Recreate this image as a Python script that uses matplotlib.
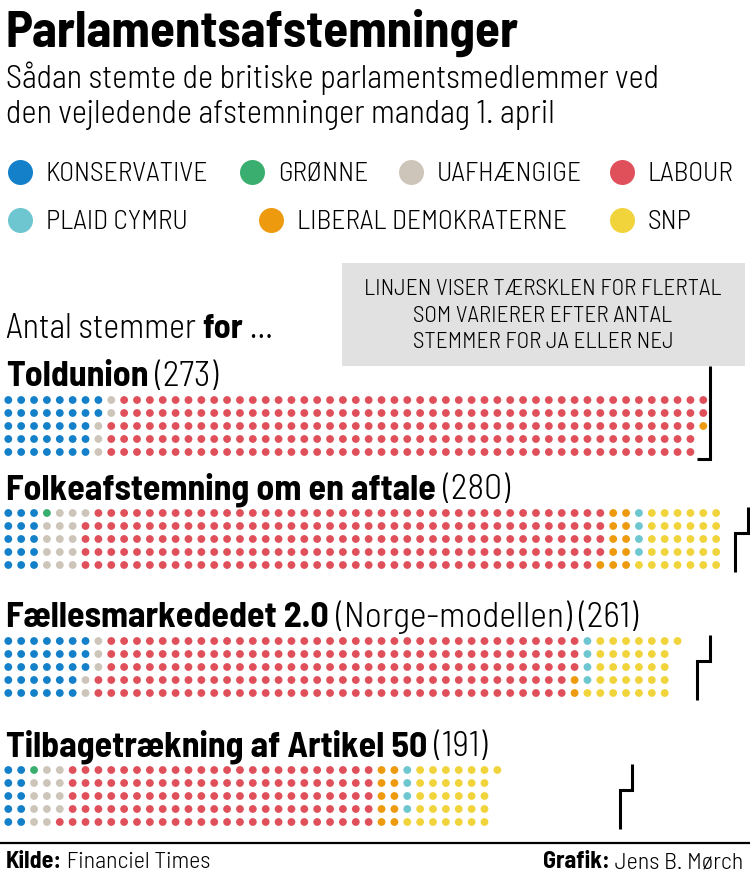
import matplotlib
matplotlib.use('Agg')
import matplotlib.pyplot as plt
from matplotlib.patches import Rectangle

# parties in dot order
parties = ['KONSERVATIVE', 'GRØNNE', 'UAFHÆNGIGE', 'LABOUR',
           'LIBERAL DEMOKRATERNE', 'PLAID CYMRU', 'SNP']
party_colors = ['#1380c9', '#3aae6e', '#cdc5b9', '#e0505b',
                '#ee9a0f', '#6ec6d0', '#f1d43c']

# legend order (as printed)
legend_rows = [['KONSERVATIVE', 'GRØNNE', 'UAFHÆNGIGE', 'LABOUR'],
               ['PLAID CYMRU', 'LIBERAL DEMOKRATERNE', 'SNP']]

motion_bold = ['Toldunion', 'Folkeafstemning om en aftale',
               'Fællesmarkededet 2.0', 'Tilbagetrækning af Artikel 50']
motion_extra = ['', '', ' (Norge-modellen)', '']

# votes for, per party (order as in `parties`)
ayes_toldunion = [37, 0, 5, 230, 1, 0, 0]
ayes_folkeafst = [15, 1, 15, 203, 11, 4, 31]
ayes_faelles = [33, 0, 5, 185, 2, 4, 32]
ayes_artikel50 = [10, 1, 13, 121, 10, 4, 32]
ayes = [ayes_toldunion, ayes_folkeafst, ayes_faelles, ayes_artikel50]
noes = [276, 292, 282, 292]

FONT = ['Barlow Semi Condensed', 'DejaVu Sans']
LIGHT = 300
PT = 0.72  # px -> pt at dpi 100

fig = plt.figure(figsize=(7.5, 8.86), dpi=100)
ax = fig.add_axes([0, 0, 1, 1])
ax.set_xlim(0, 750)
ax.set_ylim(886, 0)
ax.axis('off')
renderer = fig.canvas.get_renderer()


def mixed(x, y, parts, size, ha='left', color='black'):
    '''draw text parts (text, weight) after each other on one baseline'''
    arts = []
    for txt, w in parts:
        t = ax.text(x, y, txt, fontsize=size * PT, fontweight=w, family=FONT,
                    va='baseline', ha='left', color=color)
        arts.append(t)
    widths = [a.get_window_extent(renderer).width for a in arts]
    start = x - sum(widths) if ha == 'right' else x
    for a, wd in zip(arts, widths):
        a.set_x(start)
        start += wd
    return arts


# header
ax.text(6, 47, 'Parlamentsafstemninger', fontsize=51 * PT, fontweight='bold',
        family=FONT, va='baseline')
ax.text(6, 88, 'Sådan stemte de britiske parlamentsmedlemmer ved',
        fontsize=32.3 * PT, fontweight=LIGHT, family=FONT, va='baseline')
ax.text(6, 123, 'den vejledende afstemninger mandag 1. april',
        fontsize=32.3 * PT, fontweight=LIGHT, family=FONT, va='baseline')

# legend
legend_x = [[20, 252, 411, 622], [20, 271, 622]]
legend_y = [172, 220]
for r, row in enumerate(legend_rows):
    for name, lx in zip(row, legend_x[r]):
        col = party_colors[parties.index(name)]
        ax.scatter([lx], [legend_y[r]], s=(25 * PT) ** 2, color=col, lw=0)
        ax.text(lx + 26, legend_y[r] + 9, name, fontsize=27.5 * PT,
                fontweight=LIGHT, family=FONT, va='baseline')

# note box
ax.add_patch(Rectangle((342, 263), 403, 103, color='#e1e1e1', lw=0))
note = ['LINJEN VISER TÆRSKLEN FOR FLERTAL', 'SOM VARIERER EFTER ANTAL',
        'STEMMER FOR JA ELLER NEJ']
for i, line in enumerate(note):
    ax.text(543, 295 + i * 26.5, line, fontsize=23.2 * PT, fontweight=LIGHT,
            family=FONT, ha='center', va='baseline')

mixed(6, 338, [('Antal stemmer ', LIGHT), ('for', 'bold'), (' ...', LIGHT)], 34)

# dot grids
x0, dx, dy = 8.3, 12.87, 13.0
row0 = [400, 513, 641, 770]
dot_px = 7.8
for g, counts in enumerate(ayes):
    total = sum(counts)
    y0 = row0[g]
    mixed(6, y0 - 14, [(motion_bold[g], 'bold'),
                       (motion_extra[g] + ' (%d)' % total, LIGHT)], 35.8)
    xs, ys, cs = [], [], []
    idx = 0
    for p, n in enumerate(counts):
        for _ in range(n):
            xs.append(x0 + (idx // 5) * dx)
            ys.append(y0 + (idx % 5) * dy)
            cs.append(party_colors[p])
            idx += 1
    ax.scatter(xs, ys, s=(dot_px * PT) ** 2, c=cs, lw=0)

    # majority threshold step line
    need = (total + noes[g]) // 2 + 1
    k = (need - 1) // 5
    r = need - 5 * k
    x_top = x0 + (k + 0.5) * dx
    x_bot = x0 + (k - 0.5) * dx
    y_step = y0 + (r - 0.5) * dy
    y_top = 366 if g == 0 else y0 - 0.5 * dy
    y_bot = y0 + 4.5 * dy
    ax.plot([x_top, x_top, x_bot, x_bot], [y_top, y_step, y_step, y_bot],
            color='black', lw=2.2, solid_joinstyle='miter', solid_capstyle='butt')

# footer
ax.plot([0, 750], [843, 843], color='black', lw=1.6)
mixed(6, 868, [('Kilde:', 'bold'), (' Financiel Times', LIGHT)], 24)
mixed(743, 868, [('Grafik:', 'bold'), (' Jens B. Mørch', LIGHT)], 24, ha='right')

fig.savefig('out.png', dpi=100)
